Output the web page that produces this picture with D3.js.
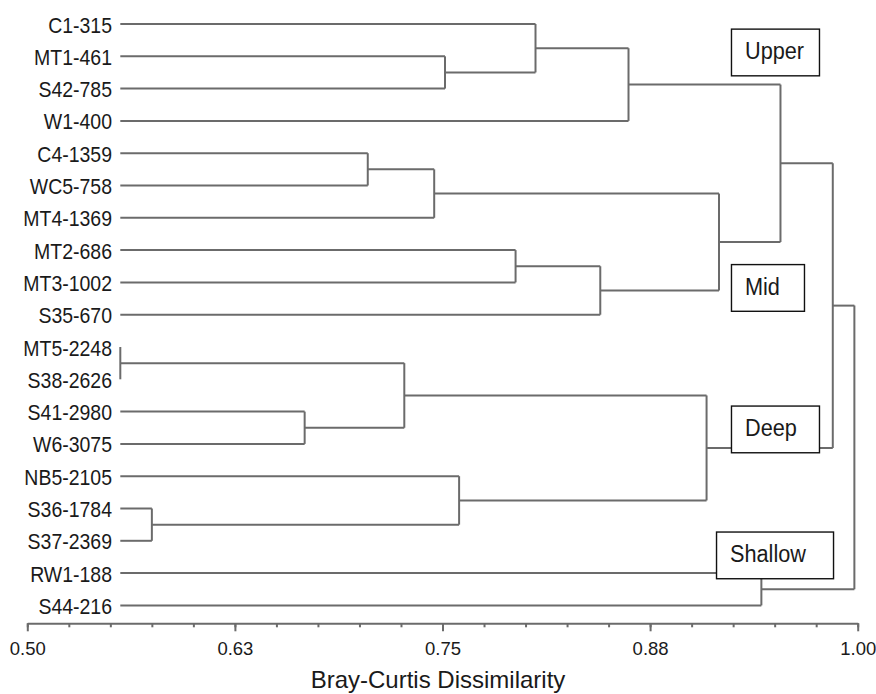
<!DOCTYPE html>
<meta charset="utf-8">
<style>
body { margin: 0; background: #fff; }
text { font-family: "Liberation Sans", Arial, sans-serif; fill: #1a1a1a; }
.branch { stroke: #6b6b6b; stroke-width: 2; fill: none; }
.axis path, .axis line { stroke: #6b6b6b; stroke-width: 2; }
</style>
<body>
<script src="https://d3js.org/d3.v7.min.js"></script>
<script>

const width = 876
const height = 694

// sample labels, top to bottom
const leaves = ["C1-315", "MT1-461", "S42-785", "W1-400", "C4-1359", "WC5-758",
  "MT4-1369", "MT2-686", "MT3-1002", "S35-670", "MT5-2248", "S38-2626",
  "S41-2980", "W6-3075", "NB5-2105", "S36-1784", "S37-2369", "RW1-188", "S44-216"]

// dissimilarity where the leaf branches begin
const leafBase = 0.556

// merges: [child a, child b, dissimilarity]; ids >= leaves.length are earlier merges
const merges = [
  [10, 11, 0.556],  // 19
  [15, 16, 0.575],  // 20
  [12, 13, 0.667],  // 21
  [4, 5, 0.705],    // 22
  [19, 21, 0.727],  // 23
  [22, 6, 0.745],   // 24
  [1, 2, 0.7515],   // 25
  [14, 20, 0.760],  // 26
  [7, 8, 0.794],    // 27
  [0, 25, 0.806],   // 28
  [27, 9, 0.845],   // 29
  [28, 3, 0.862],   // 30
  [23, 26, 0.909],  // 31
  [24, 29, 0.9165], // 32
  [17, 18, 0.942],  // 33
  [30, 32, 0.9535], // 34
  [34, 31, 0.985],  // 35
  [35, 33, 0.998]   // 36
]

// axis
const tickValues = d3.range(21).map(i => 0.5 + i / 40)
const majorTicks = [0.5, 0.625, 0.75, 0.875, 1.0]
const tickLabels = ["0.50", "0.63", "0.75", "0.88", "1.00"]

// group annotations: name, dissimilarity of left edge, row of centre
const groups = ["Upper", "Mid", "Deep", "Shallow"]
const groupX = [0.924, 0.924, 0.924, 0.915]
const groupRow = [0.88, 8.17, 12.55, 16.45]
const groupBoxW = [88, 73, 88, 117]

const svg = d3.select("body").append("svg")
  .attr("width", width)
  .attr("height", height)

const x = d3.scaleLinear().domain([0.5, 1.0]).range([27.3, 857.7])
const y = d3.scalePoint().domain(leaves).range([24, 605.4])
const rowY = r => y(leaves[0]) + r * y.step()

// build node positions from the merge table
const nodes = leaves.map(name => ({ h: leafBase, y: y(name) }))
merges.forEach(([a, b, h]) => {
  nodes.push({ h: h, y: (nodes[a].y + nodes[b].y) / 2, kids: [a, b] })
})

const g = svg.append("g")
nodes.filter(n => n.kids).forEach(n => {
  const [a, b] = n.kids.map(k => nodes[k])
  g.append("line").attr("class", "branch")
    .attr("x1", x(n.h)).attr("x2", x(n.h))
    .attr("y1", a.y).attr("y2", b.y)
  ;[a, b].forEach(c => {
    if (x(n.h) - x(c.h) > 0.5) {
      g.append("line").attr("class", "branch")
        .attr("x1", x(c.h)).attr("x2", x(n.h))
        .attr("y1", c.y).attr("y2", c.y)
    }
  })
})

// leaf labels
svg.append("g").selectAll("text")
  .data(leaves)
  .join("text")
  .attr("transform", d => `translate(112,${y(d) + 8.5}) scale(0.885,1)`)
  .attr("text-anchor", "end")
  .style("font-size", "22px")
  .text(d => d)

// x axis: minor and major ticks
const axisY = 623.3
svg.append("g").attr("class", "axis")
  .attr("transform", `translate(0,${axisY})`)
  .call(d3.axisBottom(x).tickValues(tickValues).tickSize(4).tickSizeOuter(0).tickFormat(""))
const major = svg.append("g").attr("class", "axis")
  .attr("transform", `translate(0,${axisY})`)
  .call(d3.axisBottom(x).tickValues(majorTicks).tickSize(8).tickSizeOuter(0)
    .tickFormat((d, i) => tickLabels[i]))
major.select(".domain").remove()
major.selectAll("text")
  .attr("y", 0).attr("dy", 0)
  .attr("transform", "translate(0,31.7)")
  .style("font-size", "18.5px")
  .style("font-family", "'Liberation Sans', Arial, sans-serif")
  .attr("fill", "#1a1a1a")

svg.append("text")
  .attr("x", 438).attr("y", 688)
  .attr("text-anchor", "middle")
  .style("font-size", "24px")
  .text("Bray-Curtis Dissimilarity")

// group boxes
const boxes = svg.append("g").selectAll("g")
  .data(groups)
  .join("g")
  .attr("transform", (d, i) => `translate(${x(groupX[i])},${rowY(groupRow[i])})`)
boxes.append("rect")
  .attr("x", 0).attr("y", -23.3)
  .attr("width", (d, i) => groupBoxW[i]).attr("height", 46.7)
  .attr("fill", "#fff").attr("stroke", "#111").attr("stroke-width", 1.4)
boxes.append("text")
  .attr("transform", "translate(13.5,7) scale(0.885,1)")
  .style("font-size", "24.5px")
  .text(d => d)

</script>
</body>
</html>
